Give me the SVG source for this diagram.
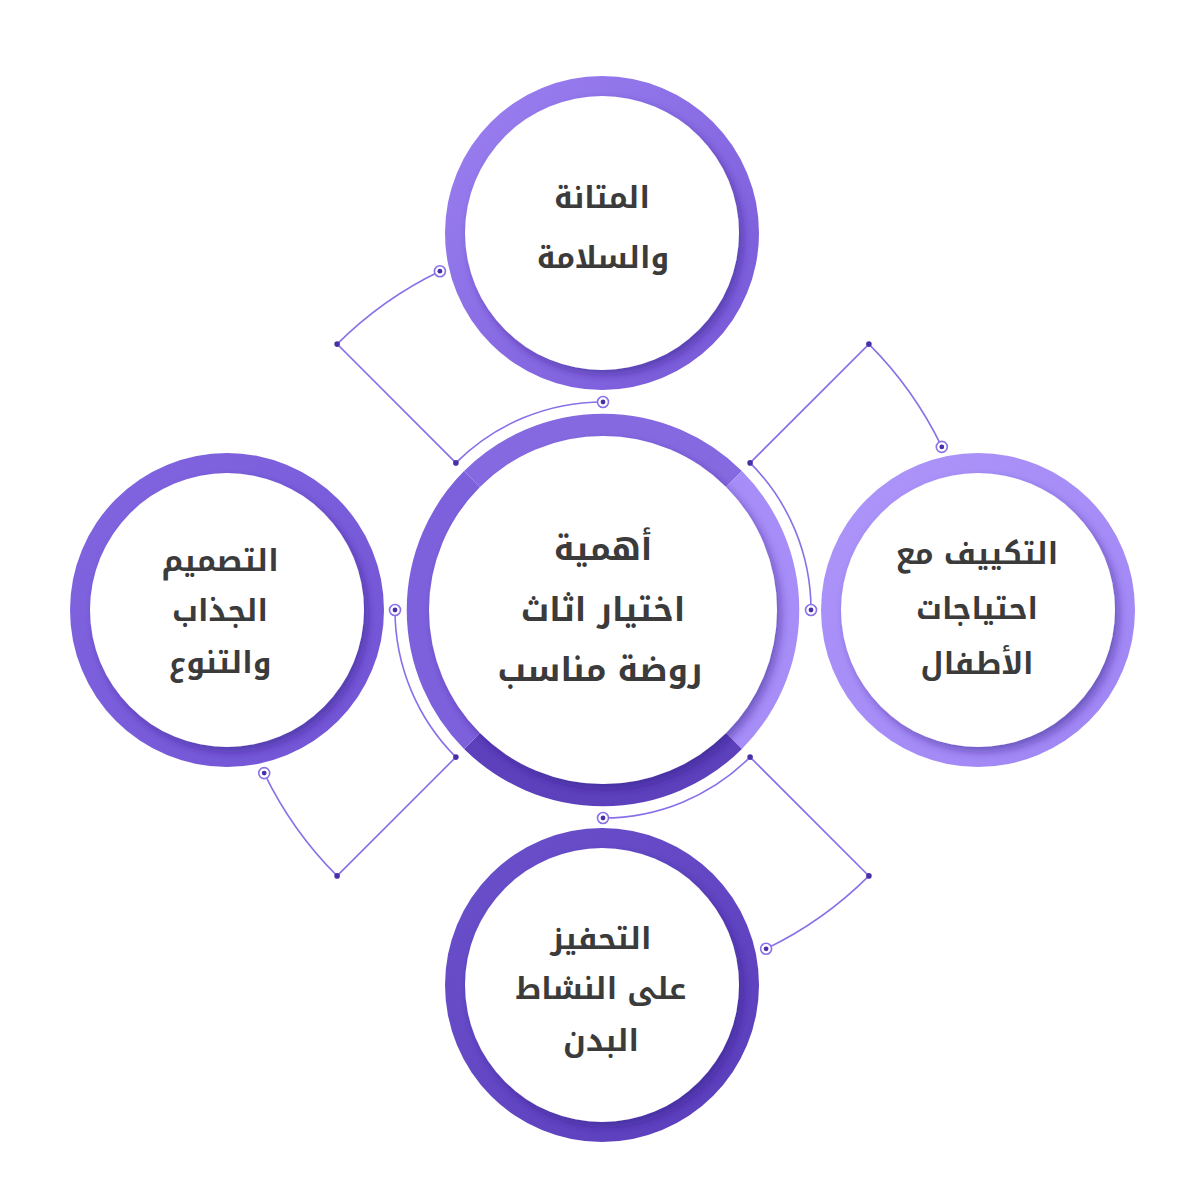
<svg xmlns="http://www.w3.org/2000/svg" width="1200" height="1200" viewBox="0 0 1200 1200">
<defs>
<style>
.lbl{font-family:"Noto Kufi Arabic","Noto Sans Arabic","DejaVu Sans",sans-serif;font-weight:bold;fill:#3b3b3b;text-anchor:middle}
.big{font-size:33px}
.sm{font-size:30px}
.wire{fill:none;stroke:#8a70e8;stroke-width:1.6}
.tgt{fill:#fff;stroke:#8a70e8;stroke-width:1.6}
.dot{fill:#4a30a6}
.disk{fill:#fff;filter:url(#sh)}
</style>
<filter id="sh" x="-20%" y="-20%" width="140%" height="140%">
<feDropShadow dx="4" dy="5" stdDeviation="4" flood-color="#2e1a80" flood-opacity="0.45"/>
</filter>
<linearGradient id="gTop" x1="0" y1="0" x2="1" y2="1">
<stop offset="0" stop-color="#9d82f2"/><stop offset="1" stop-color="#7556d6"/>
</linearGradient>
<linearGradient id="gRight" x1="0" y1="0" x2="1" y2="1">
<stop offset="0" stop-color="#ad95fa"/><stop offset="1" stop-color="#9f85f4"/>
</linearGradient>
<linearGradient id="gLeft" x1="0" y1="0" x2="1" y2="1">
<stop offset="0" stop-color="#8266e0"/><stop offset="1" stop-color="#7153d4"/>
</linearGradient>
<linearGradient id="gBot" x1="0" y1="0" x2="1" y2="1">
<stop offset="0" stop-color="#6b50cc"/><stop offset="1" stop-color="#5a3dba"/>
</linearGradient>
</defs>

<g id="connectors">
<path class="wire" d="M455.9,462.9 A208,208 0 0 1 603,402"/>
<path class="wire" d="M750.1,462.9 A208,208 0 0 1 811,610"/>
<path class="wire" d="M750.1,757.1 A208,208 0 0 1 603,818"/>
<path class="wire" d="M455.9,757.1 A208,208 0 0 1 395,610"/>
<path class="wire" d="M455.9,462.9 L337.1,344.1 A376,376 0 0 1 439.9,271.2"/>
<path class="wire" d="M750.1,462.9 L868.9,344.1 A376,376 0 0 1 941.8,446.9"/>
<path class="wire" d="M750.1,757.1 L868.9,875.9 A376,376 0 0 1 766.1,948.8"/>
<path class="wire" d="M455.9,757.1 L337.1,875.9 A376,376 0 0 1 264.2,773.1"/>
<g>
<circle class="dot" cx="455.9" cy="462.9" r="2.8"/><circle class="dot" cx="750.1" cy="462.9" r="2.8"/>
<circle class="dot" cx="750.1" cy="757.1" r="2.8"/><circle class="dot" cx="455.9" cy="757.1" r="2.8"/>
<circle class="dot" cx="337.1" cy="344.1" r="2.8"/><circle class="dot" cx="868.9" cy="344.1" r="2.8"/>
<circle class="dot" cx="868.9" cy="875.9" r="2.8"/><circle class="dot" cx="337.1" cy="875.9" r="2.8"/>
</g>
<g>
<circle class="tgt" cx="603" cy="402" r="5.5"/><circle class="dot" cx="603" cy="402" r="2.4"/>
<circle class="tgt" cx="811" cy="610" r="5.5"/><circle class="dot" cx="811" cy="610" r="2.4"/>
<circle class="tgt" cx="603" cy="818" r="5.5"/><circle class="dot" cx="603" cy="818" r="2.4"/>
<circle class="tgt" cx="395" cy="610" r="5.5"/><circle class="dot" cx="395" cy="610" r="2.4"/>
<circle class="tgt" cx="439.9" cy="271.2" r="5.5"/><circle class="dot" cx="439.9" cy="271.2" r="2.4"/>
<circle class="tgt" cx="941.8" cy="446.9" r="5.5"/><circle class="dot" cx="941.8" cy="446.9" r="2.4"/>
<circle class="tgt" cx="766.1" cy="948.8" r="5.5"/><circle class="dot" cx="766.1" cy="948.8" r="2.4"/>
<circle class="tgt" cx="264.2" cy="773.1" r="5.5"/><circle class="dot" cx="264.2" cy="773.1" r="2.4"/>
</g>
</g>

<g id="center">
<g fill="none" stroke-width="23">
<path stroke="#8569e0" d="M472.2,479.2 A185.5,185.5 0 0 1 733.8,479.2"/>
<path stroke="#a68df7" d="M733.8,479.2 A185.5,185.5 0 0 1 733.8,740.8"/>
<path stroke="#5c40bc" d="M733.8,740.8 A185.5,185.5 0 0 1 472.2,740.8"/>
<path stroke="#7d60dc" d="M472.2,740.8 A185.5,185.5 0 0 1 472.2,479.2"/>
</g>
<circle class="disk" cx="603" cy="610" r="174"/>
<text class="lbl big" x="603" y="560">أهمية</text>
<text class="lbl big" x="603" y="621">اختيار اثاث</text>
<text class="lbl big" x="600" y="681">روضة مناسب</text>
</g>

<g id="top">
<circle cx="602" cy="233" r="157" fill="url(#gTop)"/>
<circle class="disk" cx="602" cy="233" r="137"/>
<text class="lbl sm" x="602" y="208">المتانة</text>
<text class="lbl sm" x="603" y="268">والسلامة</text>
</g>

<g id="right">
<circle cx="978" cy="610" r="157" fill="url(#gRight)"/>
<circle class="disk" cx="978" cy="610" r="137"/>
<text class="lbl sm" x="977" y="564">التكييف مع</text>
<text class="lbl sm" x="977" y="619">احتياجات</text>
<text class="lbl sm" x="977" y="674">الأطفال</text>
</g>

<g id="left">
<circle cx="227" cy="610" r="157" fill="url(#gLeft)"/>
<circle class="disk" cx="227" cy="610" r="137"/>
<text class="lbl sm" x="220" y="571">التصميم</text>
<text class="lbl sm" x="220" y="621">الجذاب</text>
<text class="lbl sm" x="220" y="673">والتنوع</text>
</g>

<g id="bottom">
<circle cx="602" cy="985" r="157" fill="url(#gBot)"/>
<circle class="disk" cx="602" cy="985" r="137"/>
<text class="lbl sm" x="601" y="949">التحفيز</text>
<text class="lbl sm" x="601" y="999">على النشاط</text>
<text class="lbl sm" x="601" y="1051">البدن</text>
</g>
</svg>
